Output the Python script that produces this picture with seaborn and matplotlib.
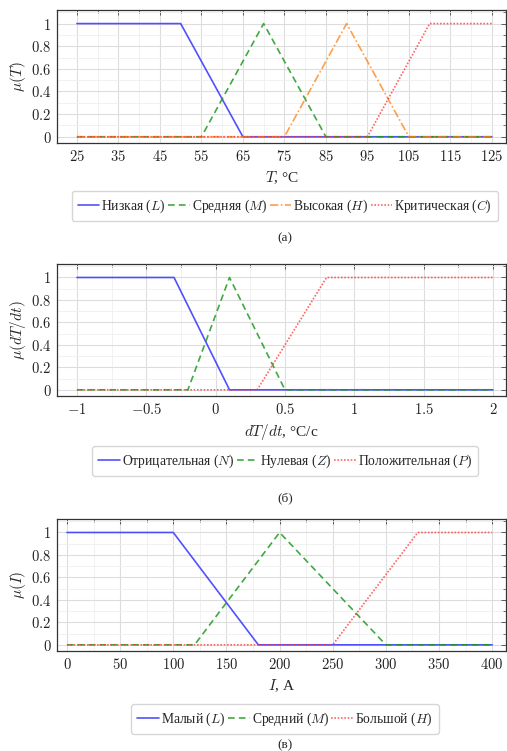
import matplotlib
matplotlib.use("Agg")
import matplotlib.pyplot as plt
import seaborn as sns
import pandas as pd
from matplotlib.ticker import MultipleLocator, FuncFormatter

# Функции принадлежности: вершины ломаных
# (а) температура T, °C
T_low_x = [25, 50, 65, 125]
T_low_y = [1, 1, 0, 0]
T_med_x = [25, 55, 70, 85, 125]
T_med_y = [0, 0, 1, 0, 0]
T_high_x = [25, 75, 90, 105, 125]
T_high_y = [0, 0, 1, 0, 0]
T_crit_x = [25, 95, 110, 125]
T_crit_y = [0, 0, 1, 1]

# (б) скорость изменения dT/dt, °C/с
D_neg_x = [-1, -0.3, 0.1, 2]
D_neg_y = [1, 1, 0, 0]
D_zero_x = [-1, -0.2, 0.1, 0.5, 2]
D_zero_y = [0, 0, 1, 0, 0]
D_pos_x = [-1, 0.3, 0.8, 2]
D_pos_y = [0, 0, 1, 1]

# (в) ток I, А
I_low_x = [0, 100, 180, 400]
I_low_y = [1, 1, 0, 0]
I_med_x = [0, 120, 200, 300, 400]
I_med_y = [0, 0, 1, 0, 0]
I_high_x = [0, 250, 330, 400]
I_high_y = [0, 0, 1, 1]

sns.set_theme(style="whitegrid")
plt.rcParams["font.family"] = ["Liberation Serif", "DejaVu Serif"]
plt.rcParams["mathtext.fontset"] = "cm"
plt.rcParams["font.size"] = 9

W, H = 507, 751
fig = plt.figure(figsize=(W / 100, H / 100), dpi=100)

styles = {
    "blue": dict(color="#3333ff", linestyle="-", alpha=0.85),
    "green": dict(color="#1f9a1f", linestyle=(0, (4, 2.5)), alpha=0.85),
    "orange": dict(color="#ff7f0e", linestyle=(0, (5, 1.5, 1, 1.5)), alpha=0.75),
    "red": dict(color="#ff3333", linestyle=(0, (1, 1)), alpha=0.75),
}


def num_fmt(v, pos):
    s = f"{v:g}"
    return f"${s}$"


def make_panel(box, series, xlim, xminor, xticks, xlabel, ylabel,
               leg_y, cap_y, cap, ncol):
    left, top, right, bottom = box
    ax = fig.add_axes([left / W, 1 - bottom / H, (right - left) / W, (bottom - top) / H])
    for x, y, label, st in series:
        df = pd.DataFrame({"x": x, "y": y})
        sns.lineplot(data=df, x="x", y="y", ax=ax, label=label, lw=1.2,
                     sort=False, estimator=None, **st)
    ax.set_xlim(*xlim)
    ax.set_ylim(-0.055, 1.12)
    ax.set_xticks(xticks)
    ax.xaxis.set_minor_locator(MultipleLocator(xminor))
    ax.set_yticks([0, 0.2, 0.4, 0.6, 0.8, 1])
    ax.yaxis.set_minor_locator(MultipleLocator(0.1))
    ax.xaxis.set_major_formatter(FuncFormatter(num_fmt))
    ax.yaxis.set_major_formatter(FuncFormatter(num_fmt))
    ax.grid(which="major", color="#dddddd", lw=0.8)
    ax.grid(which="minor", color="#efefef", lw=0.6)
    ax.tick_params(which="both", direction="in", top=True, right=True,
                   labelsize=10.5, colors="#444444", labelcolor="#222222", pad=4)
    ax.tick_params(which="major", length=3.5, width=0.6)
    ax.tick_params(which="minor", length=2, width=0.5)
    for sp in ax.spines.values():
        sp.set_color("#333333")
        sp.set_linewidth(0.9)
    ax.set_xlabel(xlabel, fontsize=11, labelpad=4)
    ax.set_ylabel(ylabel, fontsize=11, labelpad=2)
    handles, labels = ax.get_legend_handles_labels()
    ax.get_legend().remove()
    fig.legend(handles, labels, loc="center", bbox_to_anchor=(285 / W, 1 - leg_y / H),
               ncol=ncol, fontsize=9.8, handlelength=1.6, handletextpad=0.15,
               columnspacing=0.15, frameon=True, edgecolor="#cccccc",
               fancybox=True, borderpad=0.45, borderaxespad=0)
    fig.text(285 / W, 1 - cap_y / H, cap, ha="center", va="center", fontsize=9.5)
    return ax


make_panel(
    (57, 10, 506, 143),
    [(T_low_x, T_low_y, "Низкая ($L$)", styles["blue"]),
     (T_med_x, T_med_y, "Средняя ($M$)", styles["green"]),
     (T_high_x, T_high_y, "Высокая ($H$)", styles["orange"]),
     (T_crit_x, T_crit_y, "Критическая ($C$)", styles["red"])],
    (20.2, 128.4), 5, list(range(25, 126, 10)),
    "$T$, °C", r"$\mu(T)$", 206, 238, "(a)", 4)

make_panel(
    (57, 264, 506, 396),
    [(D_neg_x, D_neg_y, "Отрицательная ($N$)", styles["blue"]),
     (D_zero_x, D_zero_y, "Нулевая ($Z$)", styles["green"]),
     (D_pos_x, D_pos_y, "Положительная ($P$)", styles["red"])],
    (-1.144, 2.094), 0.25, [-1, -0.5, 0, 0.5, 1, 1.5, 2],
    "$dT/dt$, °C/с", r"$\mu(dT/dt)$", 461, 498, "(б)", 3)

make_panel(
    (57, 519, 506, 651),
    [(I_low_x, I_low_y, "Малый ($L$)", styles["blue"]),
     (I_med_x, I_med_y, "Средний ($M$)", styles["green"]),
     (I_high_x, I_high_y, "Большой ($H$)", styles["red"])],
    (-9.4, 413), 25, list(range(0, 401, 50)),
    "$I$, А", r"$\mu(I)$", 719, 745, "(в)", 3)

fig.savefig("out.png", dpi=100)
